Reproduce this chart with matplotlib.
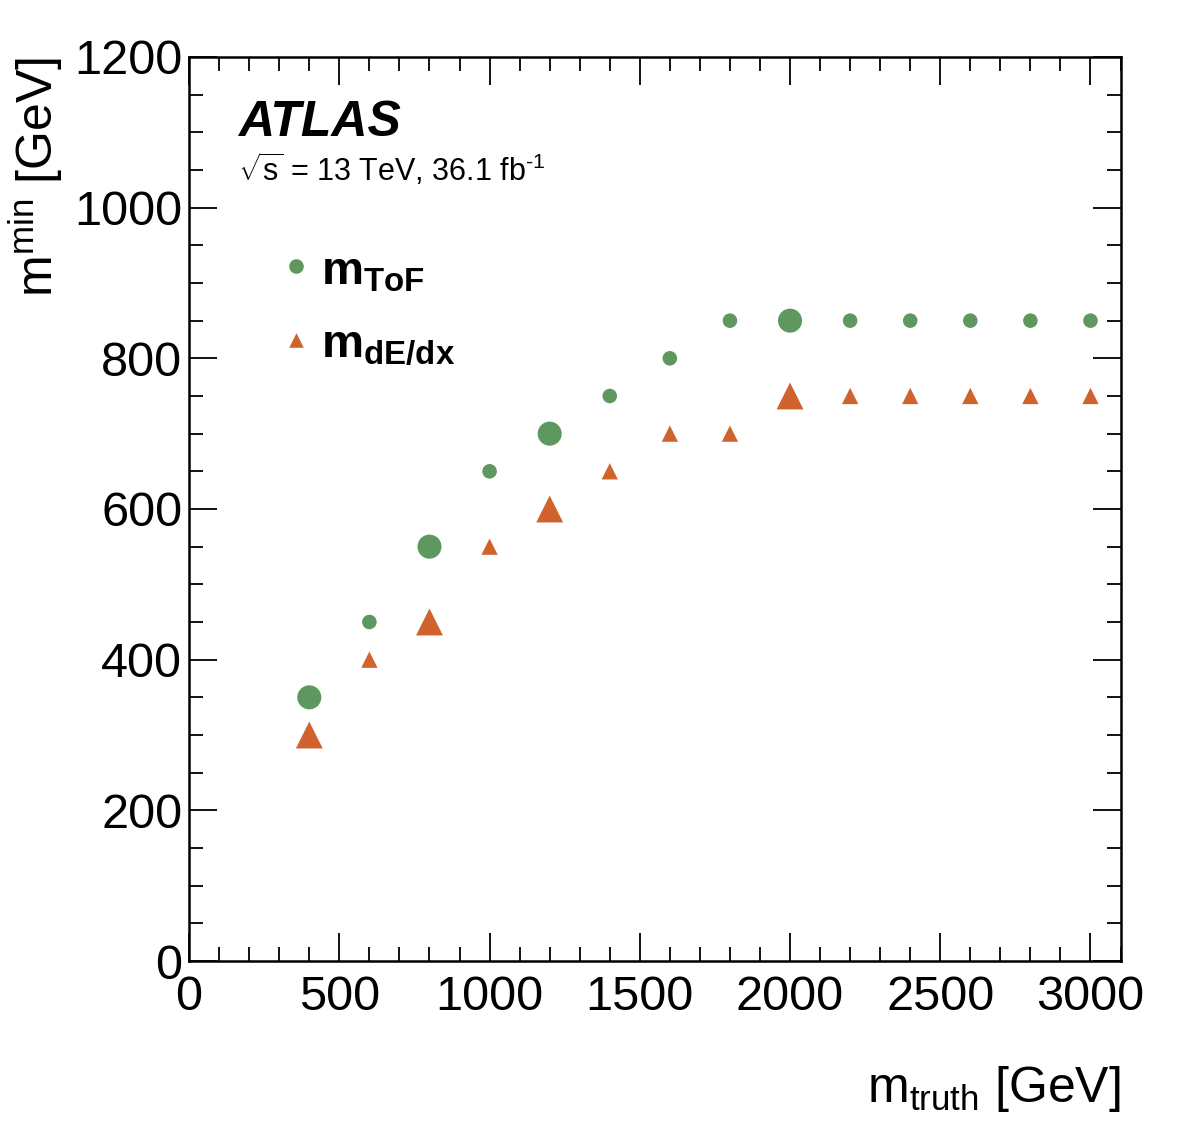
import matplotlib.pyplot as plt

plt.rcParams['font.family'] = ['Liberation Sans', 'DejaVu Sans']
plt.rcParams['mathtext.fontset'] = 'custom'
plt.rcParams['mathtext.rm'] = 'Liberation Sans'
plt.rcParams['mathtext.it'] = 'Liberation Sans:italic'
plt.rcParams['mathtext.bf'] = 'Liberation Sans:bold'

m_truth = [400, 600, 800, 1000, 1200, 1400, 1600, 1800, 2000, 2200, 2400, 2600, 2800, 3000]
m_tof = [350, 450, 550, 650, 700, 750, 800, 850, 850, 850, 850, 850, 850, 850]
m_dedx = [300, 400, 450, 550, 600, 650, 700, 700, 750, 750, 750, 750, 750, 750]
# bigger markers at the benchmark masses
big_points = [400, 800, 1200, 2000]

green = "#5f985f"
orange = "#d0622e"

sizes = [300 if m in big_points else 110 for m in m_truth]

fig = plt.figure(figsize=(11.82, 11.46), dpi=100)
ax = fig.add_axes([0.160, 0.1614, 0.788, 0.7889])

ax.scatter(m_truth, m_tof, s=sizes, marker="o", color=green, linewidths=0, zorder=3)
ax.scatter(m_truth, m_dedx, s=[1.25 * s for s in sizes], marker="^", color=orange,
           linewidths=0, zorder=3)

ax.set_xlim(0, 3100)
ax.set_ylim(0, 1200)
ax.set_xticks([0, 500, 1000, 1500, 2000, 2500, 3000])
ax.set_xticks(range(0, 3101, 100), minor=True)
ax.set_yticks(range(0, 1201, 200))
ax.set_yticks(range(0, 1201, 50), minor=True)

ax.tick_params(which="both", direction="in", top=True, right=True, width=1.3,
               labelsize=35)
ax.tick_params(which="major", length=20)
ax.tick_params(which="minor", length=10)
ax.tick_params(axis="x", pad=10)
ax.tick_params(axis="y", pad=5)
for sp in ax.spines.values():
    sp.set_linewidth(1.8)

ax.set_xlabel(r"m$_{\rm truth}$ [GeV]", fontsize=36, loc="right", labelpad=32)
ax.set_ylabel(r"m$^{\rm min}$ [GeV]", fontsize=36, loc="top", labelpad=6)

ax.text(0.052, 0.902, "ATLAS", transform=ax.transAxes, fontsize=36,
        fontweight="bold", fontstyle="italic", va="bottom")
ax.text(0.052, 0.855, r"$\sqrt{\rm s}$ = 13 TeV, 36.1 fb$^{\text{-1}}$",
        transform=ax.transAxes, fontsize=22, va="bottom")

# legend
ax.scatter([0.115], [0.769], s=110, marker="o", color=green, linewidths=0,
           transform=ax.transAxes, clip_on=False)
ax.scatter([0.115], [0.687], s=110, marker="^", color=orange, linewidths=0,
           transform=ax.transAxes, clip_on=False)
ax.text(0.142, 0.762, r"$\mathbf{m}_{\mathbf{ToF}}$", transform=ax.transAxes,
        fontsize=34, va="center")
ax.text(0.142, 0.680, r"$\mathbf{m}_{\mathbf{dE/dx}}$", transform=ax.transAxes,
        fontsize=34, va="center")

fig.savefig("out.png", dpi=100)
